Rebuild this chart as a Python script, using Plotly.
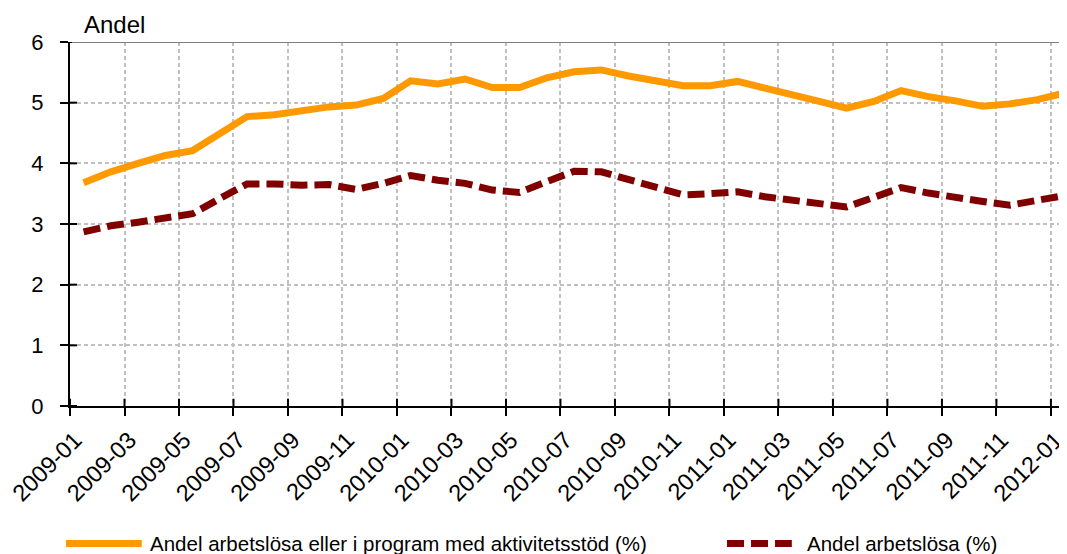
import plotly.graph_objects as go

# monthly observations 2009-01 .. 2012-01
months = [f"{y}-{m:02d}" for y in (2009, 2010, 2011) for m in range(1, 13)] + ["2012-01"]

andel_program = [
    3.68, 3.86, 4.00, 4.13, 4.21, 4.49, 4.77, 4.80, 4.87, 4.93, 4.96, 5.07,
    5.36, 5.31, 5.39, 5.25, 5.25, 5.41, 5.51, 5.54, 5.44, 5.35, 5.28, 5.28,
    5.35, 5.24, 5.12, 5.02, 4.91, 5.02, 5.20, 5.10, 5.03, 4.94, 4.98, 5.05,
    5.16,
]
andel_arbetslosa = [
    2.87, 2.97, 3.03, 3.09, 3.17, 3.42, 3.66, 3.66, 3.64, 3.65, 3.57, 3.67,
    3.80, 3.72, 3.67, 3.56, 3.52, 3.70, 3.87, 3.86, 3.74, 3.62, 3.48, 3.50,
    3.53, 3.45, 3.40, 3.33, 3.28, 3.44, 3.60, 3.51, 3.43, 3.37, 3.31, 3.39,
    3.47,
]
tick_labels = months[::2]
y_ticks = [0, 1, 2, 3, 4, 5, 6]

name_program = "Andel arbetslösa eller i program med aktivitetsstöd (%)"
name_arbetslosa = "Andel arbetslösa (%)"

ORANGE = "#FF9900"
DARKRED = "#800000"
FONT = "Liberation Sans, Arial, sans-serif"

# points sit between the month ticks (Excel style category axis)
xpos = list(range(len(months)))
tickpos = [i - 0.5 for i in xpos[::2]]

fig = go.Figure()
fig.add_trace(go.Scatter(x=xpos, y=andel_program, mode="lines", name=name_program,
                         line=dict(color=ORANGE, width=7)))
fig.add_trace(go.Scatter(x=xpos, y=andel_arbetslosa, mode="lines", name=name_arbetslosa,
                         line=dict(color=DARKRED, width=7, dash="17px,7px")))

xrange = [-0.5, 36.09]
# the page body has an 8px margin, so the figure is 8px smaller than the window
fig.update_layout(
    width=1059, height=546,
    margin=dict(l=62, r=0, t=34, b=148),
    paper_bgcolor="white", plot_bgcolor="white",
    font=dict(family=FONT, size=20, color="black"),
    showlegend=False,
    xaxis=dict(range=xrange, tickvals=tickpos, ticktext=tick_labels, tickangle=-45,
               showgrid=True, gridcolor="#C0C0C0", griddash="4px,3px", gridwidth=1.5,
               showline=True, linecolor="black", linewidth=2,
               ticks="outside", ticklen=8, tickwidth=2, tickcolor="black",
               ticklabelshift=5, ticklabelstandoff=1, ticklabeloverflow="allow",
               automargin=False, zeroline=False, tickfont=dict(size=23.5)),
    yaxis=dict(range=[0, 6], tickvals=y_ticks,
               showgrid=True, gridcolor="#C0C0C0", griddash="4px,3px", gridwidth=1.5,
               showline=True, linecolor="black", linewidth=2,
               ticks="outside", ticklen=8, tickwidth=2, tickcolor="black",
               ticklabelstandoff=12, automargin=False,
               zeroline=False, tickfont=dict(size=22)),
)

# inner halves of the tick marks, so they cross the axis lines like the original
for v in y_ticks:
    fig.add_shape(type="line", xref="paper", yref="y", x0=0, x1=0.007, y0=v, y1=v,
                  line=dict(color="black", width=2))
for v in tickpos:
    fig.add_shape(type="line", xref="x", yref="paper", x0=v, x1=v, y0=0, y1=0.02,
                  line=dict(color="black", width=2))

# grey top border at 6
fig.add_shape(type="line", xref="paper", yref="y", x0=0.002, x1=1, y0=6, y1=6,
              line=dict(color="#808080", width=2))

fig.add_annotation(text="Andel", xref="paper", yref="paper", x=0.0117, y=1,
                   xanchor="left", yanchor="bottom", yshift=2, showarrow=False,
                   font=dict(size=24))

# legend drawn by hand, so the keys get the long swatches of the original
ly = -0.3777
fig.add_shape(type="line", xref="paper", yref="paper", x0=-0.004, x1=0.072, y0=ly, y1=ly,
              line=dict(color=ORANGE, width=7))
fig.add_annotation(text=name_program, xref="paper", yref="paper", x=0.0785, y=ly,
                   xanchor="left", yanchor="middle", showarrow=False, font=dict(size=20.5))
fig.add_shape(type="line", xref="paper", yref="paper", x0=0.659, x1=0.724, y0=ly, y1=ly,
              line=dict(color=DARKRED, width=7, dash="17px,7px"))
fig.add_annotation(text=name_arbetslosa, xref="paper", yref="paper", x=0.7375, y=ly,
                   xanchor="left", yanchor="middle", showarrow=False, font=dict(size=20.5))

fig.write_html("out.html")
